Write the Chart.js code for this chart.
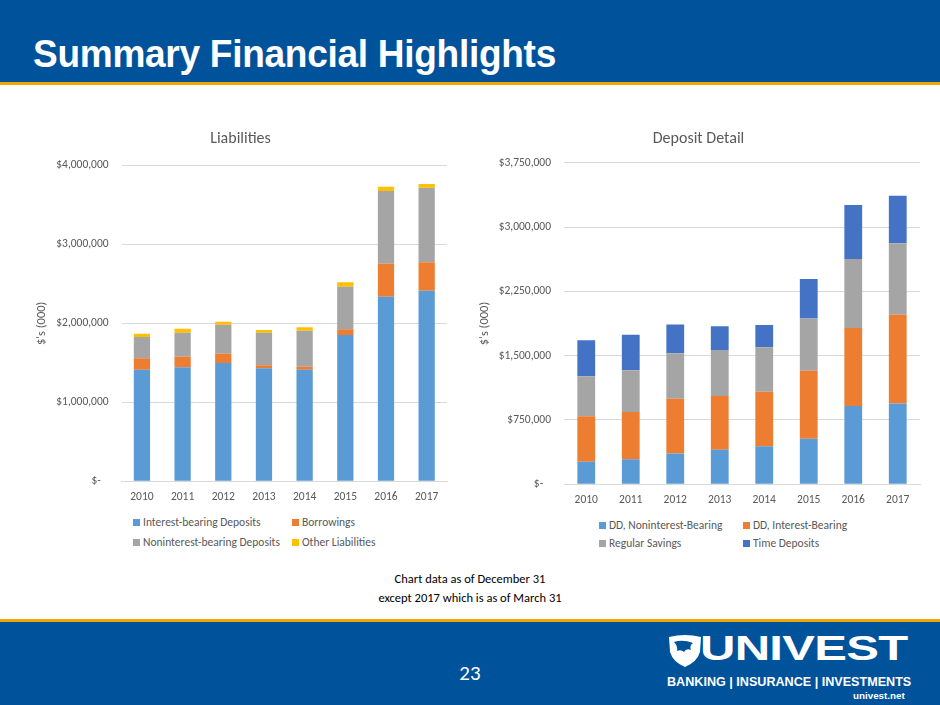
<!DOCTYPE html>
<html>
<head>
<meta charset="utf-8">
<title>Summary Financial Highlights</title>
<script src="https://cdn.jsdelivr.net/npm/chart.js@4.4.0/dist/chart.umd.min.js"></script>
<style>
  body { margin: 0; width: 940px; height: 705px; position: relative; overflow: hidden; background: #fff; font-family: Carlito, Lato, sans-serif; }
  .band { position: absolute; left: 0; width: 940px; background: #00539B; }
  .gold { position: absolute; left: 0; width: 940px; background: #F0A800; }
  #title { position: absolute; left: 33px; top: 33px; color: #fff; font: bold 38px "Liberation Sans", Arial, sans-serif; white-space: nowrap; transform: scaleX(0.975); transform-origin: 0 0; letter-spacing: -0.3px; }
  .chartbox { position: absolute; }
  .legend { position: absolute; font-size: 11.5px; color: #595959; }
  .legend .item { position: absolute; white-space: nowrap; line-height: 14px; }
  .legend .sw { display: inline-block; width: 7px; height: 7px; margin-right: 3px; vertical-align: 0px; }
  #note { position: absolute; left: 0; width: 940px; top: 569px; text-align: center; font-size: 12.5px; line-height: 19px; color: #000; }
  #page { position: absolute; left: 440px; width: 60px; top: 660px; text-align: center; color: #fff; font-size: 21px; }
  #logo { position: absolute; left: 660px; top: 628px; width: 260px; height: 75px; color: #fff; }
</style>
</head>
<body>
<div class="band" style="top:0;height:82px"></div>
<div class="gold" style="top:82px;height:3px"></div>
<div id="title">Summary Financial Highlights</div>

<div class="chartbox" style="left:34px;top:120px;width:420px;height:384px"><canvas id="liab"></canvas></div>
<div class="chartbox" style="left:477px;top:120px;width:450px;height:388px"><canvas id="dep"></canvas></div>
<div class="legend" id="liabLegend"></div>
<div class="legend" id="depLegend"></div>

<div id="note">Chart data as of December 31<br>except 2017 which is as of March 31</div>

<div class="gold" style="top:619px;height:3px"></div>
<div class="band" style="top:622px;height:83px"></div>
<div id="page">23</div>
<div id="logo">
  <svg width="36" height="34" style="position:absolute;left:7px;top:6px" viewBox="0 0 36 34">
    <path d="M2 3 Q18 -1 34 3 L33 18 Q30 28 18 33 Q6 28 3 18 Z" fill="#fff"/>
    <path d="M7 8 Q16 5 26 9 Q22 12 24 16 Q19 14 17 18 Q14 15 10 17 Q11 12 7 8 Z" fill="#00539B"/>
  </svg>
  <div style="position:absolute;left:40px;top:0px;font:bold 35px 'Liberation Sans',Arial,sans-serif;transform:scaleX(1.4);transform-origin:0 0;letter-spacing:-0.5px">UNIVEST</div>
  <div style="position:absolute;left:7px;top:47px;font:bold 12.6px 'Liberation Sans',Arial,sans-serif;white-space:nowrap">BANKING | INSURANCE | INVESTMENTS</div>
  <div style="position:absolute;left:193px;top:62px;font:bold 9.8px 'Liberation Sans',Arial,sans-serif">univest.net</div>
</div>

<script>
const years = ["2010", "2011", "2012", "2013", "2014", "2015", "2016", "2017"];

// Liabilities, $000s
const interestBearing = [1413000, 1443000, 1497000, 1430000, 1413000, 1852000, 2337000, 2413000];
const borrowings      = [144000, 134000, 119000, 38000, 38000, 72000, 418000, 359000];
const nonInterest     = [269000, 304000, 366000, 413000, 456000, 540000, 920000, 945000];
const otherLiab       = [42000, 51000, 38000, 34000, 42000, 55000, 54000, 46000];

// Deposit detail, $000s
const ddNonInterest = [264000, 291000, 358000, 404000, 443000, 532000, 913000, 941000];
const ddInterest    = [529000, 552000, 641000, 626000, 637000, 793000, 910000, 1037000];
const regSavings    = [466000, 486000, 528000, 536000, 517000, 607000, 804000, 832000];
const timeDeposits  = [420000, 416000, 335000, 276000, 261000, 462000, 630000, 556000];

const liabTicks = [0, 1000000, 2000000, 3000000, 4000000];
const depTicks = [0, 750000, 1500000, 2250000, 3000000, 3750000];

const tickFont = { family: "Carlito, Lato, sans-serif", size: 11.5 };
const grey = "#595959";

function money(v) {
  if (v === 0) return "$-   ";
  return "$" + v.toLocaleString("en-US");
}

function makeChart(id, sets, ticks, title, yWidth, padTop, padBottom, xPad, xHeight) {
  return new Chart(document.getElementById(id), {
    type: "bar",
    data: { labels: years, datasets: sets },
    options: {
      responsive: true,
      maintainAspectRatio: false,
      animation: false,
      layout: { padding: { left: 0, right: 7, top: 0, bottom: 0 } },
      plugins: {
        legend: { display: false },
        tooltip: { enabled: false },
        title: {
          display: true, text: title, color: grey,
          font: { family: "Carlito, Lato, sans-serif", size: 16, weight: "normal" },
          padding: { top: padTop, bottom: padBottom }
        }
      },
      datasets: { bar: { categoryPercentage: 1, barPercentage: 0.4 } },
      scales: {
        x: {
          stacked: true,
          afterFit: s => { s.height = xHeight; },
          grid: { display: false, drawTicks: false },
          border: { color: "#D9D9D9" },
          ticks: { color: grey, font: tickFont, padding: xPad }
        },
        y: {
          stacked: true,
          min: 0, max: ticks[ticks.length - 1],
          afterBuildTicks: s => { s.ticks = ticks.map(v => ({ value: v })); },
          afterFit: s => { s.width = yWidth; },
          grid: { color: "#D9D9D9", drawTicks: false },
          border: { display: false },
          ticks: { color: grey, font: tickFont, padding: 13, callback: v => money(v) },
          title: {
            display: true, text: "$'s (000)", color: grey,
            font: { family: "Carlito, Lato, sans-serif", size: 12.5 },
            padding: { top: 0, bottom: 0 }
          }
        }
      }
    }
  });
}

const liabSets = [
  { label: "Interest-bearing Deposits", data: interestBearing, backgroundColor: "#5B9BD5" },
  { label: "Borrowings", data: borrowings, backgroundColor: "#ED7D31" },
  { label: "Noninterest-bearing Deposits", data: nonInterest, backgroundColor: "#A5A5A5" },
  { label: "Other Liabilities", data: otherLiab, backgroundColor: "#FFC000" }
];
const depSets = [
  { label: "DD, Noninterest-Bearing", data: ddNonInterest, backgroundColor: "#5B9BD5" },
  { label: "DD, Interest-Bearing", data: ddInterest, backgroundColor: "#ED7D31" },
  { label: "Regular Savings", data: regSavings, backgroundColor: "#A5A5A5" },
  { label: "Time Deposits", data: timeDeposits, backgroundColor: "#4472C4" }
];

makeChart("liab", liabSets, liabTicks, "Liabilities", 87.6, 9.4, 16.7, 8.6, 22.7);
makeChart("dep", depSets, depTicks, "Deposit Detail", 87, 9.4, 14.1, 8.9, 23.7);

// legends laid out in two columns like the original
function legend(id, sets, cols, rows) {
  const box = document.getElementById(id);
  sets.forEach((d, i) => {
    const el = document.createElement("div");
    el.className = "item";
    el.style.left = cols[i % 2] + "px";
    el.style.top = rows[Math.floor(i / 2)] + "px";
    el.innerHTML = '<span class="sw" style="background:' + d.backgroundColor + '"></span>' + d.label;
    box.appendChild(el);
  });
}
legend("liabLegend", liabSets, [133, 292], [515, 535]);
legend("depLegend", depSets, [599, 743], [518, 536]);
</script>
</body>
</html>
